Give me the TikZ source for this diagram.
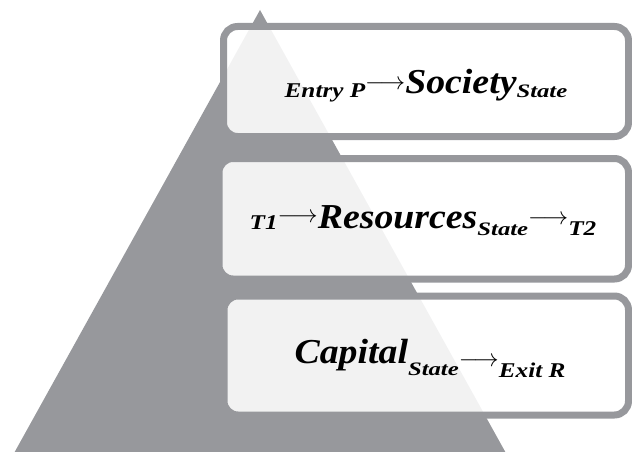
\documentclass[tikz,border=0pt]{standalone}
\usepackage{fontspec}
\setmainfont{Liberation Serif}[BoldItalicFont={Liberation Serif Bold Italic}]
\usepackage{graphicx}
\definecolor{pyr}{RGB}{151,152,156}
\newcommand\smtxt[1]{\scalebox{1.2}[1]{\fontsize{21}{21}\selectfont\bfseries\itshape #1}}
\newcommand\sttxt[1]{\scalebox{1.3}[1]{\fontsize{19}{19}\selectfont\bfseries\itshape #1}}
\newcommand\bigtxt[1]{\scalebox{1.08}[1]{\fontsize{35}{35}\selectfont\bfseries\itshape #1}}
\newcommand\arr{{\fontsize{24}{24}\selectfont$\longrightarrow$}}
\tikzset{
  layerbox/.style={draw=pyr, line width=7pt, rounded corners=14pt, fill=white, fill opacity=0.88, draw opacity=1},
  label/.style={anchor=base, inner sep=0pt, text opacity=1}
}
\begin{document}
\begin{tikzpicture}[x=1pt,y=-1pt]
\useasboundingbox (0,0) rectangle (632,452);
\fill[pyr] (260,10) -- (13,455) -- (507,455) -- cycle;
\path[layerbox] (223.5,26.5) rectangle (628.5,136.5);
\path[layerbox] (219,158.5) rectangle (628.5,279);
\path[layerbox] (224,296) rectangle (628.5,415);
\node[label] (l1) at (426,93) {\raisebox{-4pt}{\smtxt{Entry P}}\raisebox{4pt}{\arr}\bigtxt{Society}\raisebox{-5pt}{\sttxt{State}}};
\node[label] (l2) at (423,228) {\raisebox{-1pt}{\smtxt{T1}}\raisebox{6pt}{\arr}\bigtxt{Resources}\raisebox{-7pt}{\sttxt{State}}\raisebox{4pt}{\arr}\raisebox{-7pt}{\smtxt{T2}}};
\node[label] (l3) at (430,363) {\bigtxt{Capital}\raisebox{-12pt}{\sttxt{State}}\raisebox{-3pt}{\arr}\raisebox{-14pt}{\smtxt{Exit R}}};
\end{tikzpicture}
\end{document}
